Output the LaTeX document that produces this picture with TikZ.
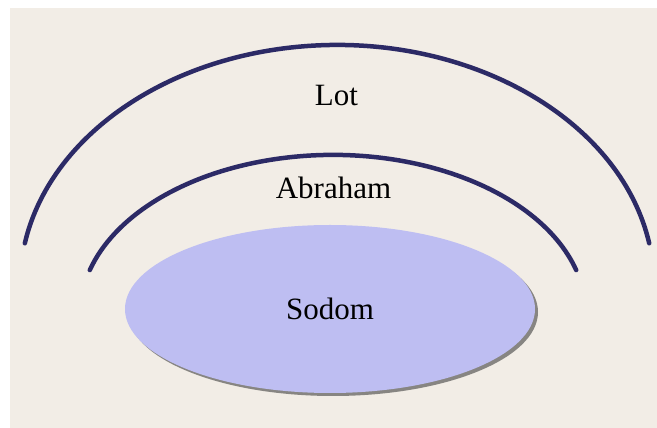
\documentclass[tikz,border=0pt]{standalone}
\usepackage{fontspec}
\setmainfont{Liberation Serif}
\usepackage{xcolor}
\usepackage{tikz}
\usetikzlibrary{shapes.geometric,shadows}
\definecolor{Paper}{HTML}{F2EDE6}
\definecolor{Navy}{HTML}{2C2A66}
\definecolor{Lavender}{HTML}{BEBEF2}

\begin{document}
\begin{tikzpicture}[x=1pt,y=1pt,
    ring/.style={draw=Navy,line width=4.5pt,line cap=round},
    label/.style={font=\fontsize{31}{36}\selectfont,text=black},
    city/.style={ellipse,fill=Lavender,minimum width=410pt,minimum height=168pt,
      drop shadow={shadow xshift=3pt,shadow yshift=-3pt,opacity=0.6,fill=black!75}}]
  % paper
  \fill[white] (0,0) rectangle (657,428);
  \fill[Paper] (10,0) rectangle (657,420);

  % Lot (outer ring)
  \draw[ring] (649.2,184.7) arc[start angle=10,end angle=170,x radius=317,y radius=240];
  % Abraham (inner ring)
  \draw[ring] (576.2,157.9) arc[start angle=16,end angle=164,x radius=253,y radius=159];

  % Sodom
  \node[city,label] (sodom) at (330,119) {Sodom};

  \node[label,anchor=base] (lot) at (336.5,322) {Lot};
  \node[label,anchor=base] (abraham) at (333.5,229) {Abraham};
\end{tikzpicture}
\end{document}
